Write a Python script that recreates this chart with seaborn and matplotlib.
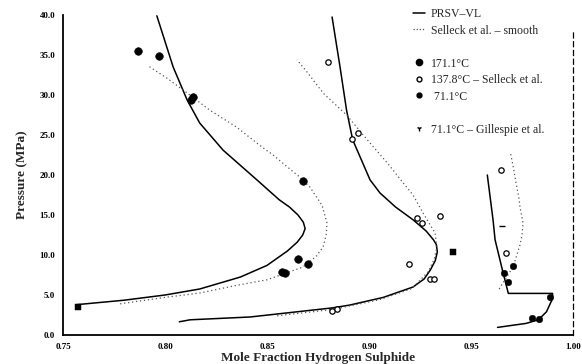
import matplotlib
matplotlib.use("Agg")
import matplotlib.pyplot as plt
from matplotlib.lines import Line2D
import seaborn as sns

# ---- data ----
# PRSV-VL model curves
prsv171_x = [0.757, 0.780, 0.800, 0.817, 0.837, 0.850, 0.860, 0.8648, 0.8675, 0.8687, 0.8678, 0.8652, 0.861, 0.856, 0.845, 0.8285, 0.817, 0.8108, 0.804, 0.796]
prsv171_p = [3.8, 4.35, 5.0, 5.75, 7.25, 8.7, 10.5, 11.6, 12.5, 13.3, 14.1, 15.0, 16.0, 16.9, 19.4, 23.1, 26.5, 29.4, 33.5, 39.9]
prsv138_x = [0.807, 0.8123, 0.8417, 0.8824, 0.8907, 0.907, 0.9216, 0.927, 0.930, 0.9325, 0.9335, 0.933, 0.9316, 0.928, 0.9216, 0.913, 0.9054, 0.9005, 0.892, 0.889, 0.8858, 0.8819]
prsv138_p = [1.65, 1.9, 2.25, 3.4, 3.75, 4.7, 6.0, 7.0, 8.1, 9.3, 10.4, 11.3, 11.9, 13.0, 14.4, 16.0, 17.75, 19.4, 24.4, 28.1, 33.5, 39.75]
prsv71_x = [0.958, 0.9608, 0.9618, 0.9658, 0.9683, 0.990, 0.9897, 0.987, 0.983, 0.977, 0.970, 0.963]
prsv71_p = [20.0, 14.4, 11.9, 7.7, 5.2, 5.2, 4.4, 2.9, 1.9, 1.45, 1.2, 0.95]

# Selleck et al. smoothed curves
sel171_x = [0.778, 0.800, 0.817, 0.835, 0.850, 0.8676, 0.874, 0.8775, 0.879, 0.8794, 0.877, 0.871, 0.866, 0.860, 0.853, 0.8475, 0.835, 0.822, 0.809, 0.801, 0.792]
sel171_p = [3.9, 4.7, 5.25, 6.2, 6.9, 8.5, 9.8, 11.0, 12.5, 14.0, 16.2, 18.5, 19.75, 21.0, 22.5, 23.5, 26.0, 28.1, 30.6, 32.1, 33.6]
sel138_x = [0.855, 0.8824, 0.905, 0.921, 0.929, 0.932, 0.9333, 0.9324, 0.9265, 0.9216, 0.9176, 0.909, 0.9005, 0.889, 0.8775, 0.870, 0.8647]
sel138_p = [2.4, 3.2, 4.4, 5.8, 7.9, 9.5, 11.0, 12.75, 15.25, 17.5, 18.75, 21.5, 24.0, 27.5, 30.25, 32.75, 34.4]
sel71_x = [0.9695, 0.971, 0.972, 0.9735, 0.974, 0.9755, 0.975, 0.974, 0.9706, 0.965, 0.9635]
sel71_p = [22.6, 20.6, 19.1, 17.1, 16.0, 14.0, 12.5, 11.25, 8.5, 6.25, 5.6]

# experimental points
exp171_x = [0.7868, 0.797, 0.8127, 0.8137, 0.8675, 0.8652, 0.870, 0.8574, 0.859]
exp171_p = [35.5, 34.9, 29.4, 29.75, 19.2, 9.5, 8.9, 7.9, 7.7]
exp138_x = [0.880, 0.8946, 0.8917, 0.9235, 0.926, 0.9348, 0.9196, 0.930, 0.9318, 0.8818, 0.8845, 0.967, 0.9645]
exp138_p = [34.1, 25.3, 24.5, 14.6, 14.0, 14.9, 8.9, 7.0, 7.0, 3.0, 3.2, 10.2, 20.6]
exp71_x = [0.9706, 0.966, 0.968, 0.9887, 0.980, 0.9833]
exp71_p = [8.6, 7.7, 6.6, 4.7, 2.1, 2.0]
sq_x = [0.7575, 0.941]
sq_p = [3.5, 10.4]
gil71_x = [0.965]
gil71_p = [13.6]

x_ticks = [0.75, 0.80, 0.85, 0.90, 0.95, 1.00]
x_ticklabels = ["0.75", "0.80", "0.85", "0.90", "0.95", "1.00"]
y_ticks = [0, 5, 10, 15, 20, 25, 30, 35, 40]
y_ticklabels = ["0.0", "5.0", "10.0", "15.0", "20.0", "25.0", "30.0", "35.0", "40.0"]

legend_labels = ["PRSV\u2013VL", "Selleck et al. \u2013 smooth", "", "171.1\u00b0C",
                 "137.8\u00b0C \u2013 Selleck et al.", " 71.1\u00b0C", "",
                 "71.1\u00b0C \u2013 Gillespie et al."]

# ---- plot ----
sns.set_style("white")
plt.rcParams["font.family"] = ["Liberation Serif", "DejaVu Serif"]

fig = plt.figure(figsize=(5.82, 3.64), dpi=100)
ax = fig.add_axes([63 / 582, 1 - 335 / 364, 510 / 582, 320 / 364])

for xs, ps in [(prsv171_x, prsv171_p), (prsv138_x, prsv138_p), (prsv71_x, prsv71_p)]:
    sns.lineplot(x=xs, y=ps, sort=False, estimator=None, color="black", linewidth=1.1, ax=ax)
for xs, ps in [(sel171_x, sel171_p), (sel138_x, sel138_p), (sel71_x, sel71_p)]:
    sns.lineplot(x=xs, y=ps, sort=False, estimator=None, color="#555555", linewidth=0.9,
                 linestyle=(0, (1, 2.2)), ax=ax)

sns.scatterplot(x=exp171_x, y=exp171_p, marker="o", s=30, color="black", edgecolor="black", ax=ax, zorder=3)
sns.scatterplot(x=exp138_x, y=exp138_p, marker="o", s=15, facecolors="white", edgecolor="black",
                linewidth=0.9, ax=ax, zorder=3)
sns.scatterplot(x=exp71_x, y=exp71_p, marker="o", s=22, color="black", edgecolor="black", ax=ax, zorder=3)
sns.scatterplot(x=sq_x, y=sq_p, marker="s", s=18, color="black", edgecolor="black", ax=ax, zorder=3)
sns.scatterplot(x=gil71_x, y=gil71_p, marker="_", s=14, color="black", linewidth=1.0, ax=ax, zorder=3)

ax.set_xlim(0.75, 1.00)
ax.set_ylim(0, 40)
ax.set_xticks(x_ticks)
ax.set_xticklabels(x_ticklabels, fontsize=6.5, fontweight="bold")
ax.set_yticks(y_ticks)
ax.set_yticklabels(y_ticklabels, fontsize=6.5, fontweight="bold")
ax.tick_params(axis="both", direction="out", length=3.5, width=1.0, pad=2, colors="black")
ax.set_xlabel("Mole Fraction Hydrogen Sulphide", fontsize=9.5, fontweight="bold", labelpad=1)
ax.set_ylabel("Pressure (MPa)", fontsize=9.5, fontweight="bold", labelpad=8)

for s in ["left", "bottom"]:
    ax.spines[s].set_color("black")
    ax.spines[s].set_linewidth(1.3)
ax.spines["top"].set_visible(False)
ax.spines["right"].set_color("black")
ax.spines["right"].set_linewidth(0.9)
ax.spines["right"].set_linestyle((0, (4, 3)))
ax.spines["right"].set_bounds(0, 38)

blank = Line2D([], [], linestyle="none")
handles = [
    Line2D([], [], color="black", linewidth=1.1),
    Line2D([], [], color="#555555", linewidth=0.9, linestyle=(0, (1, 1.5))),
    blank,
    Line2D([], [], linestyle="none", marker="o", markersize=4.5, color="black"),
    Line2D([], [], linestyle="none", marker="o", markersize=3.5, markerfacecolor="white", markeredgecolor="black"),
    Line2D([], [], linestyle="none", marker="o", markersize=3.5, color="black"),
    blank,
    Line2D([], [], linestyle="none", marker="1", markersize=4, color="black"),
]
leg = ax.legend(handles, legend_labels, loc="upper left", bbox_to_anchor=(0.675, 1.04),
                frameon=False, fontsize=8.5, handlelength=1.0, handletextpad=0.5,
                labelspacing=0.38, borderpad=0)

fig.savefig("out.png", dpi=100)
